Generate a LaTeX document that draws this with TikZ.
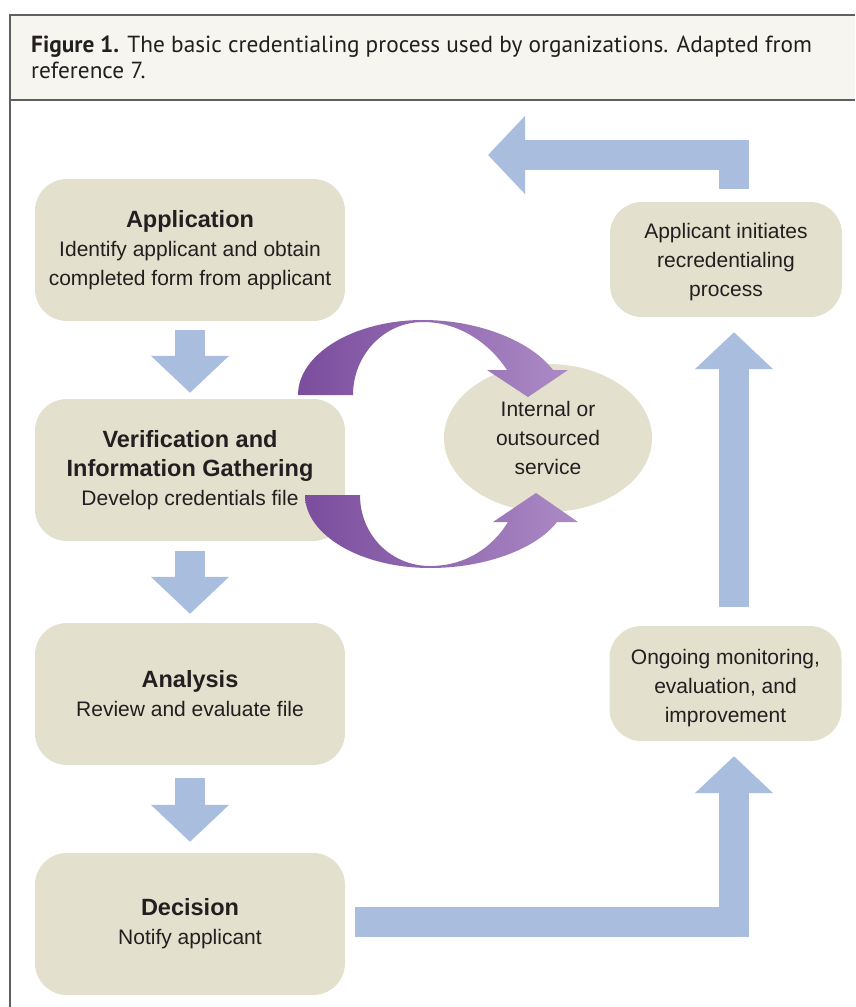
\documentclass[tikz,border=0pt]{standalone}
\usepackage{fontspec}
\setmainfont{Liberation Sans}
\newfontfamily\capfont{PT Sans}
\usetikzlibrary{shapes.geometric,arrows.meta}
\definecolor{boxfill}{RGB}{227,224,205}
\definecolor{blockblue}{RGB}{169,189,223}
\definecolor{hdrfill}{RGB}{246,245,240}
\definecolor{rulegray}{RGB}{95,95,95}
\definecolor{txt}{RGB}{35,31,32}
\definecolor{purpdark}{RGB}{123,77,157}
\definecolor{purplight}{RGB}{172,138,198}
\newcommand{\bhead}[1]{{\bfseries\fontsize{23.5}{29}\selectfont #1}}
\begin{document}
\begin{tikzpicture}[x=1pt,y=-1pt,
  stepbox/.style={rectangle, rounded corners=32pt, fill=boxfill, text=txt,
    align=center, inner sep=0pt, font=\fontsize{21}{29}\selectfont},
  bigbox/.style={stepbox, minimum width=310pt, minimum height=142pt},
  sidebox/.style={stepbox, minimum width=232pt, minimum height=115pt},
  servicebox/.style={ellipse, fill=boxfill, text=txt, align=center, inner sep=0pt,
    minimum width=208pt, minimum height=148pt, font=\fontsize{21}{29}\selectfont},
  blockarrow/.style={draw=blockblue, line width=30pt, line join=miter,
    -{Triangle[length=37pt,width=76pt]}},
  purplearrow/.style={left color=purpdark, right color=purplight}
]
\useasboundingbox (0,0) rectangle (855,1007);
\fill[white] (0,0) rectangle (855,1007);
% caption frame
\fill[hdrfill] (10,15) rectangle (855,100);
\draw[rulegray, line width=1.5pt] (855,15) -- (10,15) -- (10,1007);
\draw[rulegray, line width=1.5pt] (10,100) -- (855,100);
\node[anchor=north west, inner sep=0pt, align=left, text=txt,
  font=\capfont\fontsize{23.3}{26}\selectfont] (cap) at (31,35.5)
  {{\bfseries Figure 1.} The basic credentialing process used by organizations. Adapted from\\reference 7.};

% boxes
\node[bigbox] (app) at (190,250) {\bhead{Application}\\Identify applicant and obtain\\completed form from applicant};
\node[bigbox] (ver) at (190,470) {\bhead{Verification and}\\\bhead{Information Gathering}\\Develop credentials file};
\node[bigbox] (ana) at (190,694) {\bhead{Analysis}\\Review and evaluate file};
\node[bigbox] (dec) at (190,924) {\bhead{Decision}\\Notify applicant};
\node[sidebox] (appl) at (726,259.5) {\rule{0pt}{21pt}Applicant initiates\\recredentialing\\process};
\node[sidebox] (ong) at (725.5,683.5) {\rule{0pt}{25pt}Ongoing monitoring,\\evaluation, and\\improvement};
\node[servicebox] (svc) at (548,438) {Internal or\\outsourced\\service};

% blue block arrows
\coordinate (corner) at (734,922);
\coordinate (topcorner) at (734,155);
\coordinate (topend) at (488,155);
\draw[blockarrow] ([yshift=-9pt]app.south) -- ([yshift=6pt]ver.north);
\draw[blockarrow] ([yshift=-10pt]ver.south) -- ([yshift=9pt]ana.north);
\draw[blockarrow] ([yshift=-13pt]ana.south) -- ([yshift=11pt]dec.north);
\draw[blockarrow] ([xshift=10pt]dec.east |- corner) -- (corner) -- ([yshift=-15pt]ong.south -| corner);
\draw[blockarrow] ([yshift=19pt]ong.north -| corner) -- ([yshift=-15pt]appl.south -| corner);
\draw[blockarrow] ([yshift=13pt]appl.north -| corner) -- (topcorner) -- (topend);

% purple curved arrows to and from the service
\shade[purplearrow] (298,395) .. controls (298,354) and (354,320) .. (423,320)
  .. controls (480,320) and (532,342) .. (553,370)
  -- (568,370) -- (528,397) -- (487,370) -- (507,370)
  .. controls (490,344) and (460,322) .. (423,322)
  .. controls (384,322) and (353,355) .. (353,395) -- cycle;
\shade[purplearrow] (305,495) .. controls (305,535) and (361,568) .. (430,568)
  .. controls (487,568) and (537,548) .. (557,522)
  -- (578,522) -- (536,493) -- (493,522) -- (508,522)
  .. controls (492,548) and (465,566) .. (430,566)
  .. controls (391,566) and (360,535) .. (360,495) -- cycle;
\end{tikzpicture}
\end{document}
